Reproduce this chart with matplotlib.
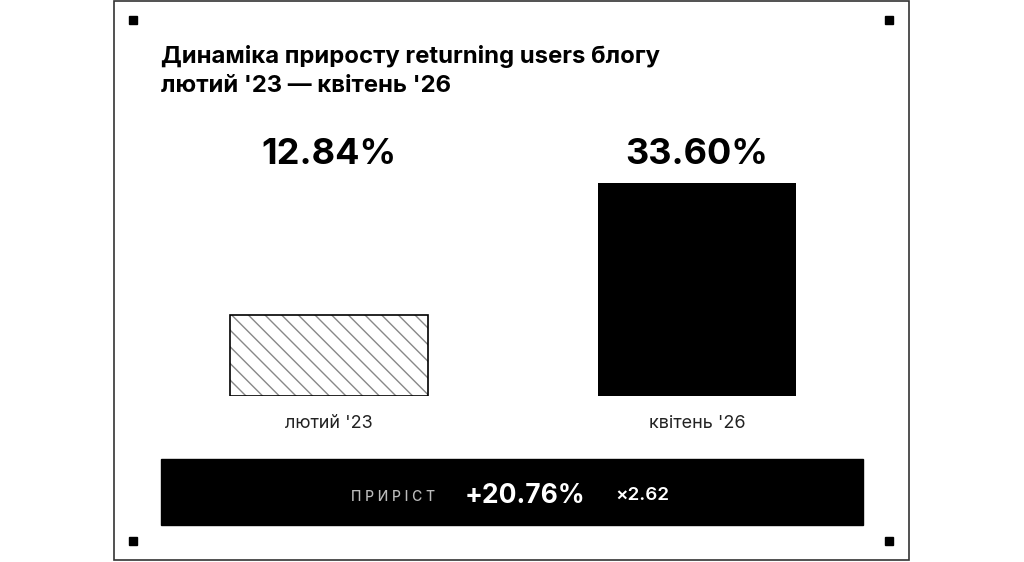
import matplotlib.pyplot as plt
from matplotlib.patches import Rectangle

plt.rcParams['font.family'] = ['Inter', 'DejaVu Sans']

# data
periods = ["лютий '23", "квітень '26"]
rates = [12.84, 33.60]
title_lines = ["Динаміка приросту returning users блогу", "лютий '23 — квітень '26"]
growth_label = "ПРИРІСТ"

W, H = 1024, 562
fig = plt.figure(figsize=(W / 100, H / 100), dpi=100)


def fx(px):
    return px / W


def fy(py):
    return 1 - py / H


# outer frame
fig.patches.append(Rectangle((fx(114), fy(560)), fx(909 - 114), (560 - 1) / H,
                             transform=fig.transFigure, fill=False,
                             edgecolor='#333333', linewidth=1.2))
# corner squares
for cx, cy in [(133, 20), (889, 20), (133, 541), (889, 541)]:
    fig.patches.append(Rectangle((fx(cx - 4), fy(cy + 4)), 8 / W, 8 / H,
                                 transform=fig.transFigure, color='black'))

# title
fig.text(fx(161), fy(56), title_lines[0], fontsize=17.2, fontweight='bold',
         va='center', ha='left')
fig.text(fx(161), fy(86), title_lines[1], fontsize=17.2, fontweight='bold',
         va='center', ha='left')

# bar axes: baseline at y=396, left 161, right 863
ymax = 36
ax_h = 213 * ymax / rates[1]
ax = fig.add_axes([fx(161), fy(396), fx(863 - 161), ax_h / H])
ax.set_xlim(-0.4565, 1.4511)
ax.set_ylim(0, ymax)
ax.axis('off')

x = [0, 1]
# hatched first bar, solid second
ax.bar(x[0], rates[0], width=0.538, color='white', edgecolor='#888888',
       hatch='\\\\', linewidth=0)
ax.bar(x[0], rates[0], width=0.538, fill=False, edgecolor='black', linewidth=1.2)
ax.bar(x[1], rates[1], width=0.538, color='black', linewidth=0)

# category labels under the bars, values in a row above
for xi, r, lab in zip(x, rates, periods):
    ax.annotate(lab, (xi, 0), xytext=(0, -(424 - 396)), textcoords='offset pixels',
                ha='center', va='center', fontsize=13, color='#222222')
    ax.annotate(f"{r:.2f}%", (xi, 0), xytext=(0, 396 - 154), textcoords='offset pixels',
                ha='center', va='center', fontsize=26, fontweight='bold')

# bottom strip
fig.patches.append(Rectangle((fx(161), fy(525)), fx(863 - 161), (525 - 459) / H,
                             transform=fig.transFigure, color='black'))
diff = rates[1] - rates[0]
ratio = rates[1] / rates[0]
fig.text(fx(393), fy(497), " ".join(growth_label), fontsize=10, fontweight='medium',
         color='#bbbbbb', ha='center', va='center')
fig.text(fx(525), fy(496), f"+{diff:.2f}%", fontsize=19, fontweight='bold',
         color='white', ha='center', va='center')
fig.text(fx(642), fy(496), f"×{ratio:.2f}", fontsize=13.5, fontweight='semibold',
         color='white', ha='center', va='center')

fig.savefig('out.png', dpi=100)
